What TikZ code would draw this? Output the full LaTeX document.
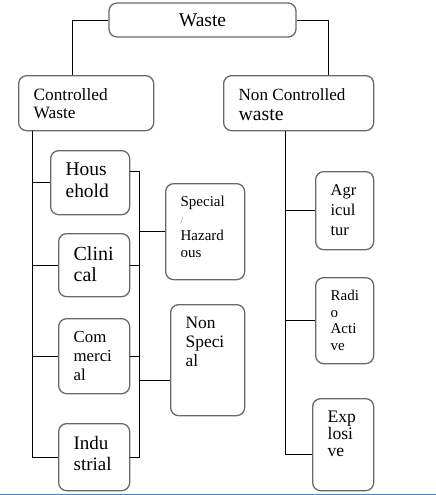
\documentclass[tikz,border=0pt]{standalone}
\usepackage{fontspec}
\setmainfont{Liberation Serif}
\usetikzlibrary{positioning}

\definecolor{boxgray}{RGB}{105,105,105}
\definecolor{rulblue}{RGB}{79,129,189}
\tikzset{
  wbox/.style={draw=boxgray,line width=1.3pt,rounded corners=8pt,
    anchor=north west,inner xsep=15pt,inner ysep=12.5pt},
  link/.style={draw=black,line width=0.8pt}
}
% text of a box: width, height, font size, line skip, lines
\newcommand\wtext[5]{\parbox[t][\dimexpr#2pt-25pt\relax][t]{\dimexpr#1pt-30pt\relax}{\raggedright\fontsize{#3}{#4}\selectfont #5}}

\begin{document}
\begin{tikzpicture}[x=1pt,y=-1pt]
\useasboundingbox (0,0) rectangle (436,495);

\node[wbox,anchor=center,minimum width=187pt,minimum height=34pt,inner sep=0pt] (waste) at (202.5,20) {\fontsize{19.5}{20}\selectfont Waste};
\node[wbox] (ctrl) at (18,75) {\wtext{135}{55}{17.3}{18}{Controlled\\Waste}};
\node[wbox] (nonctrl) at (223,75) {\wtext{150}{55}{17.1}{20}{Non Controlled\\{\fontsize{19.8}{20}\selectfont waste}}};

% controlled side
\node[wbox] (house) at (50,150) {\wtext{79}{64}{19.4}{21.7}{Hous\\ehold}};
\node[wbox] (clin) at (58,233) {\wtext{71}{63}{20}{21.7}{Clini\\cal}};
\node[wbox] (comm) at (58,318) {\wtext{71}{75}{16.8}{19}{Com\\merci\\al}};
\node[wbox] (ind) at (58,423) {\wtext{71}{67}{19}{21}{Indu\\strial}};
\node[wbox] (spec) at (165,183) {\wtext{79}{96}{15}{17}{Special\\{\fontsize{9}{9}\selectfont\color{rulblue}/}\\Hazard\\ous}};
\node[wbox] (nspec) at (170,304) {\wtext{74}{111}{17.4}{19}{Non\\Speci\\al}};

% non controlled side
\node[wbox] (agr) at (315,171) {\wtext{58}{78}{16.5}{20}{Agr\\icul\\tur}};
\node[wbox] (radio) at (315,277) {\wtext{58}{86}{15}{16.7}{Radi\\o\\Acti\\ve}};
\node[wbox] (expl) at (312,398) {\wtext{61}{92}{17.6}{16.7}{Exp\\losi\\ve}};

% top links
\draw[link] (waste.west) -| ([xshift=-13.5pt]ctrl.north);
\draw[link] (waste.east) -| ([xshift=30pt]nonctrl.north);

% left trunk
\coordinate (ltop) at ([xshift=-53.5pt]ctrl.south);
\draw[link] (ltop) |- (ind.west);
\foreach \n in {house,clin,comm}
    \draw[link] (ltop |- \n.west) -- (\n.west);

% middle trunk
\draw[link] ([yshift=11pt]house.east) -- ++(9,0) coordinate (mtop) |- (ind.east);
\foreach \n in {clin,comm}
    \draw[link] (\n.east) -- (mtop |- \n.east);
\draw[link] (mtop |- spec.west) -- (spec.west);
\coordinate (nsin) at ([yshift=-20pt]nspec.west);
\draw[link] (mtop |- nsin) -- (nsin);

% right trunk
\coordinate (rtop) at ([xshift=-13pt]nonctrl.south);
\coordinate (rbot) at ([yshift=-10pt]expl.west);
\draw[link] (rtop) |- (rbot);
\foreach \n in {agr,radio}
    \draw[link] (rtop |- \n.west) -- (\n.west);

\draw[rulblue,line width=1pt] (0,494) -- (436,494);
\end{tikzpicture}
\end{document}
